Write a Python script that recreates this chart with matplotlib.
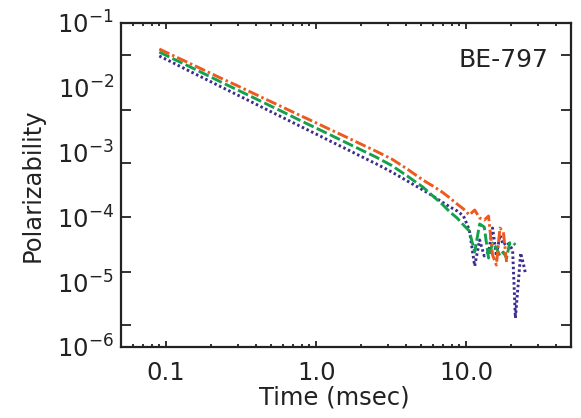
import matplotlib
matplotlib.use("Agg")
import matplotlib.pyplot as plt
from matplotlib.ticker import FixedLocator, NullFormatter

plt.rcParams['font.family'] = ['DejaVu Sans']
plt.rcParams['mathtext.fontset'] = 'dejavusans'
plt.rcParams['lines.scale_dashes'] = False

# time gates (msec)
time_ms = [0.09, 0.11, 0.14, 0.18, 0.23, 0.29, 0.37, 0.47, 0.60, 0.76,
           0.97, 1.23, 1.56, 1.98, 2.51, 3.19, 4.05, 5.14, 6.0, 6.9,
           7.8, 8.7, 9.6, 10.5, 11.4, 12.3, 13.2, 14.1, 15.0, 15.9,
           16.8, 17.7, 18.6, 19.5, 20.4, 21.3, 22.2, 23.1, 24.0, 24.9]

# polarizability, three components
pol_orange = [0.0397, 0.0318, 0.0245, 0.0186, 0.0142, 0.0111, 0.00849, 0.00653, 0.00500, 0.00386,
              0.00297, 0.00229, 0.00177, 0.00136, 0.00105, 7.96e-4, 5.58e-4, 3.78e-4, 3.05e-4, 2.47e-4,
              1.99e-4, 1.61e-4, 1.35e-4, 1.09e-4, 1.30e-4, 9.8e-5, 9.1e-5, 1.05e-4, 2.63e-5, 1.84e-5,
              6.86e-5, 5.95e-5, 2.05e-5]
pol_green = [0.0357, 0.0284, 0.0218, 0.0164, 0.0124, 0.00958, 0.00731, 0.00558, 0.00425, 0.00324,
             0.00247, 0.00190, 0.00145, 0.00111, 8.52e-4, 6.32e-4, 4.35e-4, 2.94e-4, 2.14e-4, 1.61e-4,
             1.21e-4, 9.8e-5, 7.63e-5, 6.17e-5, 2.92e-5, 7.91e-5, 7.11e-5, 2.36e-5, 4.03e-5, 3.37e-5,
             2.54e-5, 2.92e-5, 2.36e-5, 4.03e-5, 4.17e-5, 3.75e-5]
pol_purple = [0.0310, 0.0246, 0.01855, 0.0139, 0.01047, 0.00802, 0.00606, 0.00459, 0.00347, 0.00264,
              0.00200, 0.00152, 0.00116, 8.80e-4, 6.72e-4, 5.02e-4, 3.65e-4, 2.65e-4, 2.14e-4, 1.73e-4,
              1.45e-4, 1.26e-4, 1.05e-4, 6.39e-5, 1.78e-5, 4.48e-5, 2.54e-5, 2.92e-5, 6.86e-5, 2.54e-5,
              5.35e-5, 3.75e-5, 4.17e-5, 3.75e-5, 3.14e-5, 2.80e-6, 9.05e-6, 2.82e-5, 1.98e-5, 1.34e-5]

x_ticks = [0.1, 1.0, 10.0]
x_ticklabels = ['0.1', '1.0', '10.0']
y_decades = [1e-1, 1e-2, 1e-3, 1e-4, 1e-5, 1e-6]
y_ticklabels = [r'$\mathregular{10^{-%d}}$' % k for k in range(1, 7)]

fig = plt.figure(figsize=(5.81, 4.18), dpi=100)
ax = fig.add_axes([121 / 581, 1 - 347 / 418, 450 / 581, 324 / 418])

ax.plot(time_ms[:len(pol_purple)], pol_purple, color='#3B2C8F', lw=2.1, dashes=(1.8, 1.9))
ax.plot(time_ms[:len(pol_green)], pol_green, color='#15A04E', lw=2.1, dashes=(8, 2.5))
ax.plot(time_ms[:len(pol_orange)], pol_orange, color='#EE5A1E', lw=2.1, dashes=(8, 2.2, 1.8, 2.2))

ax.set_xscale('log')
ax.set_yscale('log')
ax.set_xlim(0.05, 50)
ax.set_ylim(1e-6, 1e-1)

# x ticks
ax.xaxis.set_major_locator(FixedLocator(x_ticks))
ax.set_xticklabels(x_ticklabels)
minor_x = [0.06, 0.07, 0.08, 0.09, 0.2, 0.3, 0.4, 0.5, 0.6, 0.7, 0.8, 0.9,
           2, 3, 4, 5, 6, 7, 8, 9, 20, 30, 40]
ax.xaxis.set_minor_locator(FixedLocator(minor_x))
ax.xaxis.set_minor_formatter(NullFormatter())

# y: labels on decades, tick marks where the original put them
ax.yaxis.set_major_locator(FixedLocator(y_decades))
ax.set_yticklabels(y_ticklabels)
ax.yaxis.set_minor_locator(FixedLocator([10 ** -1.49, 10 ** -2.34, 10 ** -3.16,
                                         10 ** -3.99, 10 ** -4.84, 10 ** -5.66]))
ax.yaxis.set_minor_formatter(NullFormatter())

ax.tick_params(axis='both', which='both', direction='in', top=True, right=True,
               color='#222222', width=1.3, labelsize=17.5, labelcolor='#222222')
ax.tick_params(axis='x', which='major', length=4.5, pad=10)
ax.tick_params(axis='x', which='minor', length=2.2)
ax.tick_params(axis='y', which='major', length=0, pad=5)
ax.tick_params(axis='y', which='minor', length=7)

for sp in ax.spines.values():
    sp.set_linewidth(1.6)
    sp.set_color('#222222')

ax.set_xlabel('Time (msec)', fontsize=17.5, color='#222222')
ax.xaxis.set_label_coords((334 - 121) / 450, (347 - 385) / 324)
ax.set_ylabel('Polarizability', fontsize=17.5, color='#222222')
ax.yaxis.set_label_coords((45 - 121) / 450, 0.5)

ax.text(0.95, 0.885, 'BE-797', transform=ax.transAxes, ha='right', va='center',
        fontsize=18, color='#222222')

fig.savefig('out.png', dpi=100)
